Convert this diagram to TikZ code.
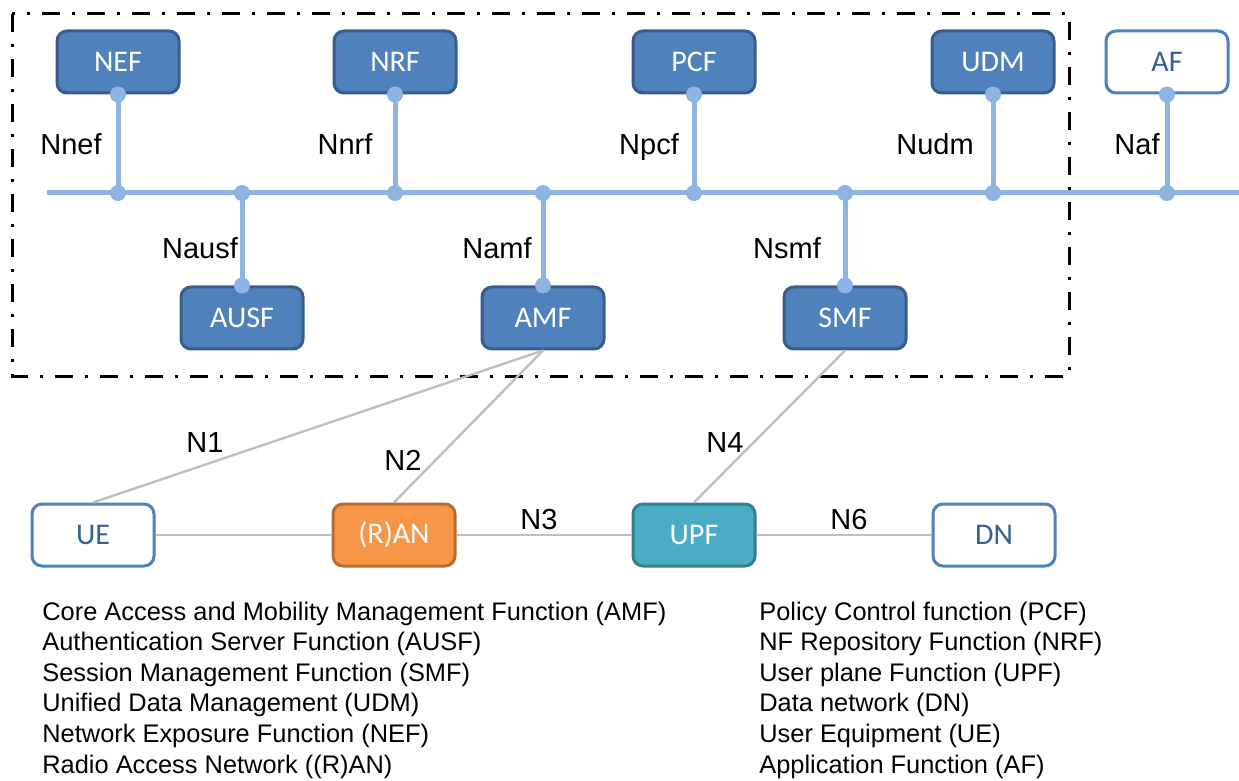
\documentclass[tikz,border=0pt]{standalone}
\usepackage{fontspec}
\setsansfont{Liberation Sans}
\newfontfamily\boxfont{Carlito}
\usepackage{xcolor}
\usepackage{tikz}

\definecolor{fnblue}{RGB}{79,129,189}
\definecolor{fnedge}{RGB}{56,93,138}
\definecolor{busblue}{RGB}{141,180,226}
\definecolor{ranorange}{RGB}{247,150,70}
\definecolor{ranedge}{RGB}{182,109,49}
\definecolor{upfteal}{RGB}{75,172,198}
\definecolor{upfedge}{RGB}{53,126,146}
\definecolor{exttext}{RGB}{55,96,146}
\definecolor{linegray}{RGB}{191,191,191}

\tikzset{
  nf/.style={rectangle, rounded corners=5pt, draw=fnedge, fill=fnblue, line width=1.5pt,
    minimum width=61pt, minimum height=31pt, text=white, font=\boxfont\fontsize{15}{17}\selectfont},
  ext/.style={nf, draw=fnblue, fill=white, text=exttext},
  ran/.style={nf, draw=ranedge, fill=ranorange},
  upf/.style={nf, draw=upfedge, fill=upfteal},
  bus/.style={busblue, line width=2.5pt},
  ref/.style={linegray, line width=1.2pt},
  corebox/.style={line width=1.5pt, dash pattern=on 9pt off 6pt on 1.5pt off 6pt},
  lbl/.style={font=\sffamily\fontsize{14.5}{17}\selectfont, anchor=base, inner sep=0pt},
  legend/.style={font=\sffamily\fontsize{12.7}{15}\selectfont, anchor=base west, inner sep=0pt}
}

\begin{document}
\begin{tikzpicture}[x=0.5pt, y=-0.5pt]
\useasboundingbox (0,0) rectangle (1239,781);

% Core network frame
\draw[corebox] (12,14) rectangle (1069,376);

% Network functions on the service bus
\node[nf] (NEF) at (118,62) {NEF};
\node[nf] (NRF) at (395,62) {NRF};
\node[nf] (PCF) at (694,62) {PCF};
\node[nf] (UDM) at (993,62) {UDM};
\node[ext] (AF) at (1167,62) {AF};
\node[nf] (AUSF) at (242,318) {AUSF};
\node[nf] (AMF) at (543,318) {AMF};
\node[nf] (SMF) at (845,318) {SMF};

% User plane
\node[ext] (UE) at (93,535) {UE};
\node[ran] (RAN) at (394,535) {(R)AN};
\node[upf] (UPF) at (694,535) {UPF};
\node[ext] (DN) at (994,535) {DN};

% Service based bus
\coordinate (busW) at (47,193);
\coordinate (busE) at (1239,193);
\draw[bus] (busW) -- (busE);
\foreach \f/\a in {NEF/south, NRF/south, PCF/south, UDM/south, AF/south, AUSF/north, AMF/north, SMF/north} {
  \draw[bus] (\f.\a) -- (\f.\a |- busW);
  \fill[busblue] (\f.\a) circle (4pt);
  \fill[busblue] (\f.\a |- busW) circle (4pt);
}

% Reference points
\draw[ref] (AMF.south) -- (UE.north);
\draw[ref] (AMF.south) -- (RAN.north);
\draw[ref] (SMF.south) -- (UPF.north);
\draw[ref] (UE.east) -- (RAN.west);
\draw[ref] (RAN.east) -- (UPF.west);
\draw[ref] (UPF.east) -- (DN.west);

% Interface labels
\node[lbl] (lNnef) at (71,155) {Nnef};
\node[lbl] (lNnrf) at (345,155) {Nnrf};
\node[lbl] (lNpcf) at (649,155) {Npcf};
\node[lbl] (lNudm) at (935,155) {Nudm};
\node[lbl] (lNaf) at (1137,155) {Naf};
\node[lbl] (lNausf) at (200,258) {Nausf};
\node[lbl] (lNamf) at (497,258) {Namf};
\node[lbl] (lNsmf) at (787,258) {Nsmf};
\node[lbl] (lN1) at (205,452) {N1};
\node[lbl] (lN2) at (403,470) {N2};
\node[lbl] (lN3) at (539,529) {N3};
\node[lbl] (lN4) at (725,452) {N4};
\node[lbl] (lN6) at (849,529) {N6};

% Legend
\foreach \t [count=\i] in {Core Access and Mobility Management Function (AMF), Authentication Server Function (AUSF), Session Management Function (SMF), Unified Data Management (UDM), Network Exposure Function (NEF), Radio Access Network ((R)AN)}
  \node[legend] (legL\i) at (42,{589.4+30.6*\i}) {\t};
\foreach \t [count=\i] in {Policy Control function (PCF), NF Repository Function (NRF), User plane Function (UPF), Data network (DN), User Equipment (UE), Application Function (AF)}
  \node[legend] (legR\i) at (759,{589.4+30.6*\i}) {\t};
\end{tikzpicture}
\end{document}
